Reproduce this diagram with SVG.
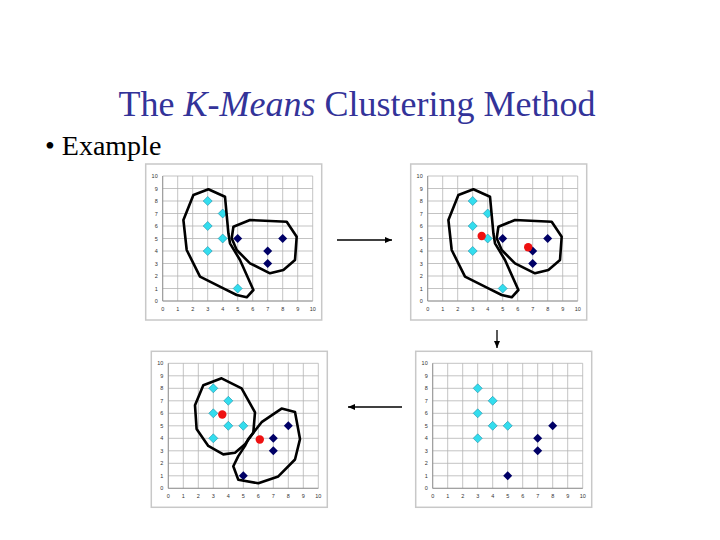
<svg xmlns="http://www.w3.org/2000/svg" xmlns:xlink="http://www.w3.org/1999/xlink" width="720" height="540" viewBox="0 0 720 540">
<style>
.frame{fill:#fff;stroke:#c8c8c8;stroke-width:1.5}
.grid{fill:none;stroke:#b4b4b4;stroke-width:0.8}
.ax{font:5.5px "Liberation Sans",sans-serif;fill:#333}
.cy{fill:#33ddee;stroke:#1a8fa8;stroke-width:0.6}
.dk{fill:#000066}
.red{fill:#ee1111}
.blob{fill:none;stroke:#000;stroke-width:2.6;stroke-linejoin:round}
.arr{stroke:#000;stroke-width:1.3;fill:none}
</style>
<defs>
<path id="d" d="M0 -4.5L4.5 0L0 4.5L-4.5 0Z"/>
<marker id="ah" markerWidth="8" markerHeight="8" refX="7" refY="4" orient="auto" markerUnits="userSpaceOnUse"><path d="M0 1L7 4L0 7Z" fill="#000"/></marker>
<g id="chart">
<rect class="frame" x="-17" y="-137" width="176" height="156"/>
<path class="grid" d="M0 0V-125M15 0V-125M30 0V-125M45 0V-125M60 0V-125M75 0V-125M90 0V-125M105 0V-125M120 0V-125M135 0V-125M150 0V-125M0 0H150M0 -12.5H150M0 -25H150M0 -37.5H150M0 -50H150M0 -62.5H150M0 -75H150M0 -87.5H150M0 -100H150M0 -112.5H150M0 -125H150"/>
<path d="M0 0H150M0 0V-125" stroke="#888" stroke-width="0.8"/>
<g class="ax" text-anchor="end">
<text x="-5" y="2">0</text><text x="-5" y="-10.5">1</text><text x="-5" y="-23">2</text><text x="-5" y="-35.5">3</text><text x="-5" y="-48">4</text><text x="-5" y="-60.5">5</text><text x="-5" y="-73">6</text><text x="-5" y="-85.5">7</text><text x="-5" y="-98">8</text><text x="-5" y="-110.5">9</text><text x="-5" y="-123">10</text>
</g>
<g class="ax" text-anchor="middle">
<text x="0" y="10">0</text><text x="15" y="10">1</text><text x="30" y="10">2</text><text x="45" y="10">3</text><text x="60" y="10">4</text><text x="75" y="10">5</text><text x="90" y="10">6</text><text x="105" y="10">7</text><text x="120" y="10">8</text><text x="135" y="10">9</text><text x="150" y="10">10</text>
</g>
</g>
<g id="ptsA">
<use href="#d" class="cy" x="45" y="-100"/><use href="#d" class="cy" x="60" y="-87.5"/><use href="#d" class="cy" x="45" y="-75"/><use href="#d" class="cy" x="60" y="-62.5"/><use href="#d" class="cy" x="45" y="-50"/><use href="#d" class="cy" x="75" y="-12.5"/>
<use href="#d" class="dk" x="75" y="-62.5"/><use href="#d" class="dk" x="105" y="-50"/><use href="#d" class="dk" x="120" y="-62.5"/><use href="#d" class="dk" x="105" y="-37.5"/>
</g>
<g id="ptsB">
<use href="#d" class="cy" x="45" y="-100"/><use href="#d" class="cy" x="60" y="-87.5"/><use href="#d" class="cy" x="45" y="-75"/><use href="#d" class="cy" x="60" y="-62.5"/><use href="#d" class="cy" x="75" y="-62.5"/><use href="#d" class="cy" x="45" y="-50"/>
<use href="#d" class="dk" x="120" y="-62.5"/><use href="#d" class="dk" x="105" y="-50"/><use href="#d" class="dk" x="105" y="-37.5"/><use href="#d" class="dk" x="75" y="-12.5"/>
</g>
<g id="blobsA">
<polygon class="blob" points="45.7,-111.7 62.3,-104.3 65.7,-67.7 67.3,-57.7 77.3,-41 90.7,-11 84,-3.7 74,-6 60.7,-12.7 37.3,-24.3 24,-51 20.7,-81 30.7,-106"/>
<polygon class="blob" points="70.7,-74.3 87.3,-81 124,-79.3 134,-64.3 132.3,-41 120.7,-31 107.3,-27.7 87.3,-37.7 74,-51 69,-62.7"/>
</g>
</defs>
<text x="357" y="116" text-anchor="middle" font-family="Liberation Serif, serif" font-size="36" fill="#333399">The <tspan font-style="italic">K-Means</tspan> Clustering Method</text>
<text x="45" y="155" font-family="Liberation Serif, serif" font-size="28" fill="#000">• Example</text>
<g id="chart1" transform="translate(162.7,301)"><use href="#chart"/><use href="#ptsA"/><use href="#blobsA"/></g>
<g id="chart2" transform="translate(427.7,301)"><use href="#chart"/><use href="#ptsA"/><use href="#blobsA"/>
<circle class="red" cx="54" cy="-65" r="4.2"/><circle class="red" cx="100.5" cy="-53.8" r="4.2"/></g>
<g id="chart3" transform="translate(168.3,488.3)"><use href="#chart"/><use href="#ptsB"/>
<polygon class="blob" points="53.3,-110 73.3,-100 86.7,-76 85,-55.6 76.7,-44 66.7,-35.6 55,-33.9 40,-42.4 28.3,-59.3 26.7,-83 35,-103"/>
<polygon class="blob" points="80,-49.2 93.3,-66.1 113.3,-79.7 126.7,-76.3 131.7,-49.2 126.7,-28.8 110,-11.9 90,-5.1 70,-8.5 65,-22 70,-32.2 76.7,-42.4"/>
<circle class="red" cx="54" cy="-73.8" r="4.2"/><circle class="red" cx="91.5" cy="-48.8" r="4.2"/></g>
<g id="chart4" transform="translate(432.7,488.3)"><use href="#chart"/><use href="#ptsB"/></g>
<g id="connectors">
<line class="arr" x1="337" y1="240" x2="392" y2="240" marker-end="url(#ah)"/>
<line class="arr" x1="497" y1="330" x2="497" y2="348" marker-end="url(#ah)"/>
<line class="arr" x1="402" y1="407" x2="348" y2="407" marker-end="url(#ah)"/>
</g>
</svg>
